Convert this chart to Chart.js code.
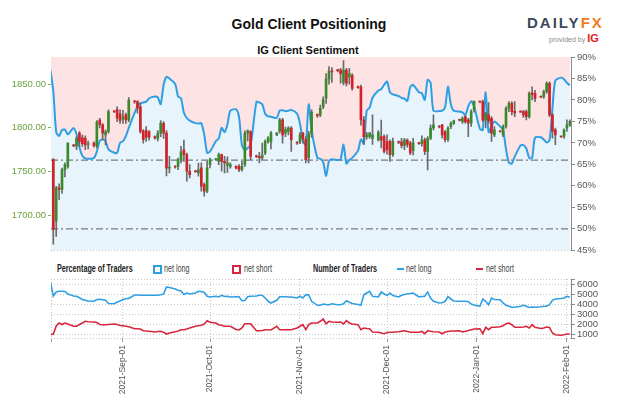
<!DOCTYPE html>
<html>
<head>
<meta charset="utf-8">
<script src="https://cdn.jsdelivr.net/npm/chart.js@4.4.1/dist/chart.umd.min.js"></script>
<style>
  html, body { margin:0; padding:0; background:#fff; }
  #wrap { position:relative; width:624px; height:416px; overflow:hidden; font-family:"Liberation Sans", Arial, sans-serif; }
  canvas { position:absolute; left:0; }
  .abs { position:absolute; white-space:nowrap; }
  .nar { font-size:10px; line-height:12px; transform:scaleX(0.72); transform-origin:0 50%; }
</style>
</head>
<body>
<div id="wrap">
  <div class="abs" style="left:0;width:618px;top:16px;text-align:center;font-weight:bold;font-size:14px;line-height:16px;color:#111;">Gold Client Positioning</div>
  <div class="abs" style="left:0;width:616px;top:44px;text-align:center;font-weight:bold;font-size:11px;line-height:13px;color:#111;">IG Client Sentiment</div>
  <div class="abs" style="left:527px;top:15px;font-weight:bold;font-size:15px;line-height:16px;letter-spacing:2px;color:#3e4a59;">DAILY<span style="color:#f47a20;">FX</span></div>
  <div class="abs" style="left:549px;top:33px;font-size:7px;line-height:10px;color:#8a8a8a;">provided by <span style="color:#e2231a;font-weight:bold;font-size:11px;">IG</span></div>

  <canvas id="main" width="624" height="258" style="top:0;"></canvas>

  <div class="abs nar" style="left:57px;top:263px;font-weight:bold;color:#222;">Percentage of Traders</div>
  <div class="abs" style="left:153px;top:265px;width:5px;height:5px;border:2px solid #2f9fe3;background:#fff;"></div>
  <div class="abs nar" style="left:164px;top:263px;color:#444;">net long</div>
  <div class="abs" style="left:232px;top:265px;width:5px;height:5px;border:2px solid #d7263d;background:#fff;"></div>
  <div class="abs nar" style="left:244px;top:263px;color:#444;">net short</div>
  <div class="abs nar" style="left:313px;top:263px;font-weight:bold;color:#222;">Number of Traders</div>
  <div class="abs" style="left:397px;top:268px;width:7px;height:2px;background:#2f9fe3;"></div>
  <div class="abs nar" style="left:406px;top:263px;color:#444;">net long</div>
  <div class="abs" style="left:476px;top:268px;width:7px;height:2px;background:#d7263d;"></div>
  <div class="abs nar" style="left:486px;top:263px;color:#444;">net short</div>

  <canvas id="lower" width="624" height="158" style="top:258px;"></canvas>
</div>
<script>
// ---------------- DATA ----------------
// day offsets counted from 2021-08-01 (day 0)
const days = [6,
 7,8,9,10,11,12, 14,15,16,17,18,19, 21,22,23,24,25,26, 28,29,30,31,32,33,
 35,36,37,38,39,40, 42,43,44,45,46,47, 49,50,51,52,53,54, 56,57,58,59,60,61,
 63,64,65,66,67,68, 70,71,72,73,74,75, 77,78,79,80,81,82, 84,85,86,87,88,89,
 91,92,93,94,95,96, 98,99,100,101,102,103, 105,106,107,108,109,110, 112,113,114,115,116,117,
 119,120,121,122,123,124, 126,127,128,129,130,131, 133,134,135,136,137,138, 140,141,142,143,144,145,
 147,148,149,150,151,152, 154,155,156,157,158,159, 161,162,163,164,165,166, 168,169,170,171,172,173,
 175,176,177,178,179,180, 182,183,184,185];

const openP = [null,
 1763.6,1693.6,1731.4,1729.5,1752.3,1756,
 1779.8,1779,1793.9,1789,1788,1781,
 1782.6,1779,1809,1803.5,1792,1795.8,
 1818.6,1821,1816,1810,1814.8,1809.1,
 1830,1830,1824,1796.6,1797,1795.8,
 1790,1788,1794,1805.3,1794,1754,
 1755.4,1756,1764,1775,1769.3,1750.4,
 1750.4,1748.5,1754.2,1735.2,1727.6,1758,
 1763.6,1761.7,1769.3,1761.7,1757,1756,
 1756,1756,1752.3,1758,1794,1795.8,
 1768,1767.4,1765.5,1771.2,1784.5,1784,
 1792,1795.8,1809.1,1793.9,1795.8,1799.6,
 1783,1784,1793.9,1787,1766,1793,
 1815,1814.8,1824,1834,1856,1865,
 1866,1866,1852,1866,1858,1860,
 1847,1847,1809,1790,1790,1788,
 1786,1790,1790,1784.5,1784.5,1769.3,
 1784,1784,1780,1786,1782.6,1774,
 1782.6,1782,1786.4,1773,1788.3,1800,
 1801.5,1803.4,1795.8,1786.4,1801.5,1805,
 1809,1807.2,1812.9,1809.1,1805.3,1820.5,
 1829.9,1829.9,1809.1,1815,1811,1792,
 1796,1792,1801.5,1822.3,1828,1819,
 1818.6,1818.6,1818.6,1812.9,1840,1839.4,
 1835.6,1835.6,1841.3,1850.8,1814.8,1797.7,
 1790.1,1790.1,1799.6,1803.4];

const highP = [null,
 1765,1733,1736,1754,1760,1783,
 1781,1790,1795.8,1791.6,1790.8,1785,
 1784,1808.4,1811,1805,1797.7,1820.5,
 1819.5,1824,1820.5,1820,1817,1834.5,
 1831,1831.2,1828,1798,1801.5,1797,
 1791,1797,1808.4,1807.2,1797,1767.4,
 1756.5,1765.5,1778.8,1786,1771.2,1758,
 1751,1759.8,1760,1737,1762,1765.5,
 1764.5,1771.2,1770,1767.4,1767,1760,
 1757,1758,1761.7,1796.6,1797.7,1796.6,
 1769,1772,1782.6,1786.4,1790,1796,
 1795,1811,1811,1801,1801.5,1801.5,
 1784,1795,1795,1790,1796,1820.5,
 1816,1826.1,1835.6,1862,1870,1869,
 1867,1868,1877,1868,1868,1862,
 1848,1849,1813,1795,1795,1815,
 1797,1809,1792,1792,1786.4,1788.3,
 1785,1788,1788,1787.5,1784.5,1788,
 1783.5,1791,1788.3,1790,1803.4,1814.8,
 1802.5,1804,1797,1801.5,1807,1809,
 1810,1813,1814,1811,1820.5,1831,
 1830.5,1831.8,1818,1829,1812.9,1801.5,
 1797,1803.4,1824.2,1829.9,1829.9,1829.9,
 1819.5,1820,1820.5,1841.3,1847,1843,
 1836.5,1843.2,1852.7,1852.7,1816.7,1799.6,
 1791,1799,1809.1,1809.1];

const lowP = [null,
 1667,1676,1718,1725,1744,1754,
 1778.5,1775,1778.8,1778.8,1775,1776,
 1778,1777,1800,1786.4,1780.5,1793.9,
 1817.5,1807,1805,1805,1805,1807,
 1828,1816.7,1793.9,1782.6,1784.5,1786,
 1787,1785,1790,1788,1745,1748.5,
 1754,1752.3,1759.8,1761.7,1739,1742.8,
 1749,1744.7,1727.6,1722,1725.8,1754.2,
 1762.7,1758,1750.4,1748.5,1749,1754,
 1753,1750,1750.4,1756,1785,1763.6,
 1766,1760,1763.6,1769.3,1782.6,1776,
 1791,1793.9,1782.6,1790,1792,1773.1,
 1781,1782,1782.6,1759.8,1760,1789,
 1812,1812.9,1822,1828,1850,1852,
 1864,1851,1849,1848,1850,1843,
 1845,1803,1781,1787,1788,1781,
 1785,1777,1771,1770,1761.7,1767.4,
 1782,1777,1775,1778,1769.3,1769,
 1781,1779,1769.3,1752,1786.4,1797.7,
 1800,1788.3,1784,1784.5,1799,1804,
 1808,1805,1805,1790,1801.5,1818,
 1829,1807.2,1800,1805,1784.5,1790,
 1795,1790,1799.6,1818.6,1814.8,1812.9,
 1817.5,1812,1809.1,1811,1831.8,1830,
 1834.5,1833.7,1839.4,1812.9,1788.3,1780.7,
 1789,1788,1795.8,1801.5];

const closeP = [null,
 1684,1731.4,1729.5,1752.3,1758,1782.6,
 1779.3,1788,1784.5,1782,1780.5,1782,
 1779.6,1806.5,1803.5,1794,1795.8,1818.6,
 1818.2,1811,1808.4,1813,1809.1,1831.8,
 1829.8,1822.4,1795.8,1786.4,1789,1789,
 1788.5,1794,1805.3,1794,1754,1755,
 1755.2,1763.6,1773,1769.3,1750.4,1746.6,
 1750,1752.3,1733.3,1727.6,1754.2,1763.6,
 1764,1769.3,1761.7,1760,1760,1758,
 1754,1752.3,1756,1793.9,1796.6,1767.4,
 1767,1765.5,1769,1784.5,1788.3,1793.9,
 1794,1809.1,1792,1798,1799.6,1786.4,
 1782.6,1792,1787,1763.6,1793,1818,
 1814,1822.3,1832,1856,1865,1864,
 1865.5,1862,1866,1851,1862,1845,
 1846,1809,1790,1792,1794,1792,
 1795,1786,1773,1775,1769.3,1784.5,
 1783.5,1780,1786,1781,1771.2,1783,
 1782,1786,1773.1,1788,1799.6,1803.4,
 1801,1792,1786.4,1799.6,1805.3,1808,
 1808.5,1811,1807.2,1805.3,1818.6,1829.9,
 1829.5,1809.1,1816.7,1808,1793.9,1797.7,
 1795.5,1801.5,1822.3,1828,1818.6,1817,
 1818,1814.8,1812.9,1839.4,1838,1833.7,
 1835,1841.3,1850.8,1814.8,1795.8,1792,
 1789.5,1797.7,1803.4,1807.2];

const netLongPct = [87,
 82,72.5,71.6,73,73.1,72,
 73.5,72,69,67,66.4,66.3,
 66.5,68,70.5,70.8,70.4,68.5,
 67.7,67.7,70,70.4,71.6,73.5,
 77,78.5,79.3,79.4,79.6,80.4,
 80.8,80.6,79,83.5,85.4,85,
 83.7,80.8,80.4,77,75.8,75.2,
 74.6,74.5,74.6,72,67.7,68,
 70.4,71,73.5,72.5,74.3,77.5,
 77.8,76,69.5,68.3,68.8,69.5,
 79.6,79.4,79,76.8,76.2,76.1,
 75.8,77.5,77.6,77.4,77.5,77.7,
 76.8,74.5,70.6,69.5,79,73,
 66.5,66.3,65.5,62.3,65.8,66.2,
 66,66.2,69.6,65.2,66,66.5,
 68.2,70.8,69.8,77.5,78.2,80.5,
 82.2,82.5,83.5,84.3,81.8,81.3,
 80.9,80.5,80.3,79.8,83,83.5,
 81.8,81.6,80,84.7,84,77.5,
 77.4,77.5,78.3,83.1,79,77.5,
 77.3,77.1,76.5,78.5,79.7,78.5,
 73.3,73,81.8,72.5,73.8,75,
 73.8,73,68.5,65.4,65.2,66.8,
 69.4,69.5,68.7,66.5,66.5,71.2,
 71.3,70.8,70.1,70.6,78,84.5,
 85.2,84.8,84,83.4];

const netLongTraders = [6200,
 4800,5200,5270,5270,5250,5000,
 4800,4770,4620,4450,4380,4300,
 4270,4450,4480,4430,4380,4050,
 4030,4200,4300,4450,4530,4560,
 4900,4900,4870,4870,4870,4880,
 4870,4870,4930,5000,5700,5650,
 5500,5380,5300,4950,5100,5000,
 5100,5270,5250,5150,4770,4700,
 4770,4700,4870,4750,4770,4700,
 4720,4730,4330,4350,4720,4770,
 4800,4870,4870,4600,4270,4100,
 4370,4730,4730,4720,4700,4700,
 4600,4770,4600,4930,4900,4270,
 3870,3870,4000,3950,3930,4030,
 3930,3930,4030,4330,4170,4050,
 3950,3870,4930,5100,5270,4770,
 4700,5200,5000,4870,5100,4850,
 4700,4870,4950,5030,5050,5100,
 4700,4750,4770,5200,4600,4270,
 4100,4120,4270,4730,4500,4300,
 4270,4270,4270,4230,4000,3900,
 3770,4500,4270,3930,4600,4450,
 4430,4100,3870,3770,3670,3670,
 3770,3870,3770,3650,3700,3670,
 3720,3770,3780,3930,4370,4500,
 4550,4600,4770,4680];

const netShortTraders = [950,
 1000,1800,2100,1950,2100,2000,
 1770,1770,1950,2100,2270,2230,
 2200,2150,1950,1930,1930,1950,
 2000,1950,1850,1830,1780,1720,
 1530,1530,1500,1330,1300,1270,
 1200,1250,1270,1170,1000,1100,
 1230,1300,1430,1430,1500,1600,
 1770,1830,1870,2000,2330,2170,
 2100,1930,1870,1770,1770,1770,
 1450,1400,1600,2030,2030,2030,
 1330,1330,1350,1430,1420,1400,
 1770,1430,1430,1430,1430,1430,
 1600,1770,1930,1430,1930,2100,
 2100,2270,2500,2030,2270,2200,
 2170,2200,2000,2330,2100,2000,
 1930,1430,1600,1550,1530,1200,
 1170,1100,1030,1150,1170,1170,
 1230,1280,1330,1250,1170,1170,
 1170,1250,1030,1330,1270,1230,
 1200,1030,1200,1250,1300,1300,
 1330,1200,1270,1350,1430,1500,
 1530,1030,1670,1430,1670,1680,
 1730,1830,2030,2100,1930,1670,
 1670,1700,1770,1600,1930,1670,
 1550,1600,1700,1650,1100,930,
 870,930,1000,1000];

const monthTicks  = [31, 61, 92, 122, 153, 184];
const monthLabels = ['2021-Sep-01','2021-Oct-01','2021-Nov-01','2021-Dec-01','2022-Jan-01','2022-Feb-01'];
const priceTicks  = [1700, 1750, 1800, 1850];
const pctGridTicks = [90, 80, 70, 60, 45];
const traderTicks = [1000, 2000, 3000, 4000, 5000, 6000];
const refLevels   = [66, 50];

// axis ranges
const X_MIN = 6.2, X_MAX = 185.4;
const PRICE_MIN = 1660, PRICE_MAX = 1881;
const PCT_MIN = 45, PCT_MAX = 90;
const TR_MIN = 600, TR_MAX = 6500;

// ---------------- STYLE ----------------
const FONT = '"Liberation Sans",Arial,sans-serif';
const UP = '#3a8a2c', DOWN = '#d0222b', WICK = '#6a6a6a';
const BLUE = '#2f9fe3', RED = '#d7263d';
const GRID = '#c4c4c4', GGRID = '#b3d197', GAXIS = '#7db356';

// ---------------- BUILD ----------------
const idx = days.map((d, i) => i).filter(i => openP[i] !== null);
const wickData = idx.map(i => ({x: days[i], y: [lowP[i], highP[i]]}));
const bodyData = idx.map(i => ({x: days[i], y: [openP[i], closeP[i]]}));
const bodyColors = idx.map(i => closeP[i] >= openP[i] ? UP : DOWN);
const sentData = days.map((d, i) => ({x: d, y: netLongPct[i]}));
const longData = days.map((d, i) => ({x: d, y: netLongTraders[i]}));
const shortData = days.map((d, i) => ({x: d, y: netShortTraders[i]}));

const refSets = refLevels.map(v => ({
  type: 'line', yAxisID: 'pct', data: [{x: X_MIN, y: v}, {x: X_MAX, y: v}],
  borderColor: '#7a7a7a', borderWidth: 1.3, borderDash: [7, 3, 2, 3],
  pointRadius: 0, fill: false, order: 7
}));

new Chart(document.getElementById('main'), {
  type: 'bar',
  data: {
    datasets: [
      { type: 'line', yAxisID: 'pct', data: sentData, fill: 'end', backgroundColor: '#fde3e3',
        borderWidth: 0, pointRadius: 0, tension: 0.25, order: 10 },
      { type: 'line', yAxisID: 'pct', data: sentData, fill: 'start', backgroundColor: '#e7f4fc',
        borderWidth: 0, pointRadius: 0, tension: 0.25, order: 9 },
      ...refSets,
      { type: 'line', yAxisID: 'pct', data: sentData, fill: false, borderColor: BLUE,
        borderWidth: 2, pointRadius: 0, tension: 0.25, order: 5 },
      { type: 'bar', yAxisID: 'price', data: wickData, backgroundColor: WICK,
        barThickness: 1, grouped: false, minBarLength: 1, order: 2 },
      { type: 'bar', yAxisID: 'price', data: bodyData, backgroundColor: bodyColors,
        barThickness: 2, grouped: false, minBarLength: 1, order: 1 }
    ]
  },
  options: {
    responsive: false, animation: false, devicePixelRatio: 1,
    layout: { padding: { top: 57, bottom: 7, left: 0, right: 0 } },
    plugins: { legend: { display: false }, tooltip: { enabled: false }, title: { display: false } },
    scales: {
      x: {
        type: 'linear', min: X_MIN, max: X_MAX, offset: false,
        afterBuildTicks: s => { s.ticks = monthTicks.map(v => ({value: v})); },
        ticks: { display: false },
        grid: { color: GRID, drawTicks: false, lineWidth: 1 },
        border: { display: false, dash: [1, 2] },
        afterFit: s => { s.height = 0; }
      },
      price: {
        type: 'linear', position: 'left', min: PRICE_MIN, max: PRICE_MAX,
        afterBuildTicks: s => { s.ticks = priceTicks.map(v => ({value: v})); },
        ticks: { autoSkip: false, color: '#6aa33e', font: { family: FONT, size: 9.5 }, padding: 2,
                 callback: v => Number(v).toFixed(2) },
        grid: { color: GGRID, tickColor: GAXIS, tickLength: 3, lineWidth: 1 },
        border: { display: true, color: GAXIS, width: 1, dash: [1, 2] },
        afterFit: s => { s.width = 51; }
      },
      pct: {
        type: 'linear', position: 'right', min: PCT_MIN, max: PCT_MAX,
        ticks: { autoSkip: false, stepSize: 5, color: '#555', font: { family: FONT, size: 9.5 }, padding: 2,
                 callback: v => v + '%' },
        grid: { color: c => (c.tick && pctGridTicks.includes(c.tick.value)) ? GRID : 'rgba(0,0,0,0)',
                tickColor: '#8a8a8a', tickLength: 4, lineWidth: 1 },
        border: { display: true, color: '#8a8a8a', width: 1, dash: [1, 2] },
        afterFit: s => { s.width = 53; }
      }
    }
  }
});

new Chart(document.getElementById('lower'), {
  type: 'line',
  data: {
    datasets: [
      { data: longData, borderColor: BLUE, borderWidth: 1.6, pointRadius: 0, fill: false, tension: 0, yAxisID: 'tr' },
      { data: shortData, borderColor: RED, borderWidth: 1.6, pointRadius: 0, fill: false, tension: 0, yAxisID: 'tr' }
    ]
  },
  options: {
    responsive: false, animation: false, devicePixelRatio: 1,
    layout: { padding: { top: 21, bottom: 0, left: 51, right: 0 } },
    plugins: { legend: { display: false }, tooltip: { enabled: false } },
    scales: {
      x: {
        type: 'linear', min: X_MIN, max: X_MAX, offset: false,
        afterBuildTicks: s => { s.ticks = [X_MIN, ...monthTicks].map(v => ({value: v})); },
        ticks: { autoSkip: false, minRotation: 90, maxRotation: 90, color: '#555', padding: 3,
                 font: { family: FONT, size: 8.5 },
                 callback: v => { const k = monthTicks.indexOf(v); return k >= 0 ? monthLabels[k] : ''; } },
        grid: { color: GRID, tickColor: '#9a9a9a', tickLength: 4, lineWidth: 1 },
        border: { display: false, dash: [1, 2] },
        afterFit: s => { s.height = 78; }
      },
      tr: {
        type: 'linear', position: 'right', min: TR_MIN, max: TR_MAX,
        afterBuildTicks: s => { s.ticks = [TR_MIN, ...traderTicks, TR_MAX].map(v => ({value: v})); },
        ticks: { autoSkip: false, color: '#555', font: { family: FONT, size: 9.5 }, padding: 2,
                 callback: v => traderTicks.includes(v) ? String(v) : '' },
        grid: { color: GRID, tickColor: '#8a8a8a', tickLength: 4, lineWidth: 1 },
        border: { display: true, color: '#8a8a8a', width: 1, dash: [1, 2] },
        afterFit: s => { s.width = 53; }
      }
    }
  }
});
</script>
</body>
</html>
